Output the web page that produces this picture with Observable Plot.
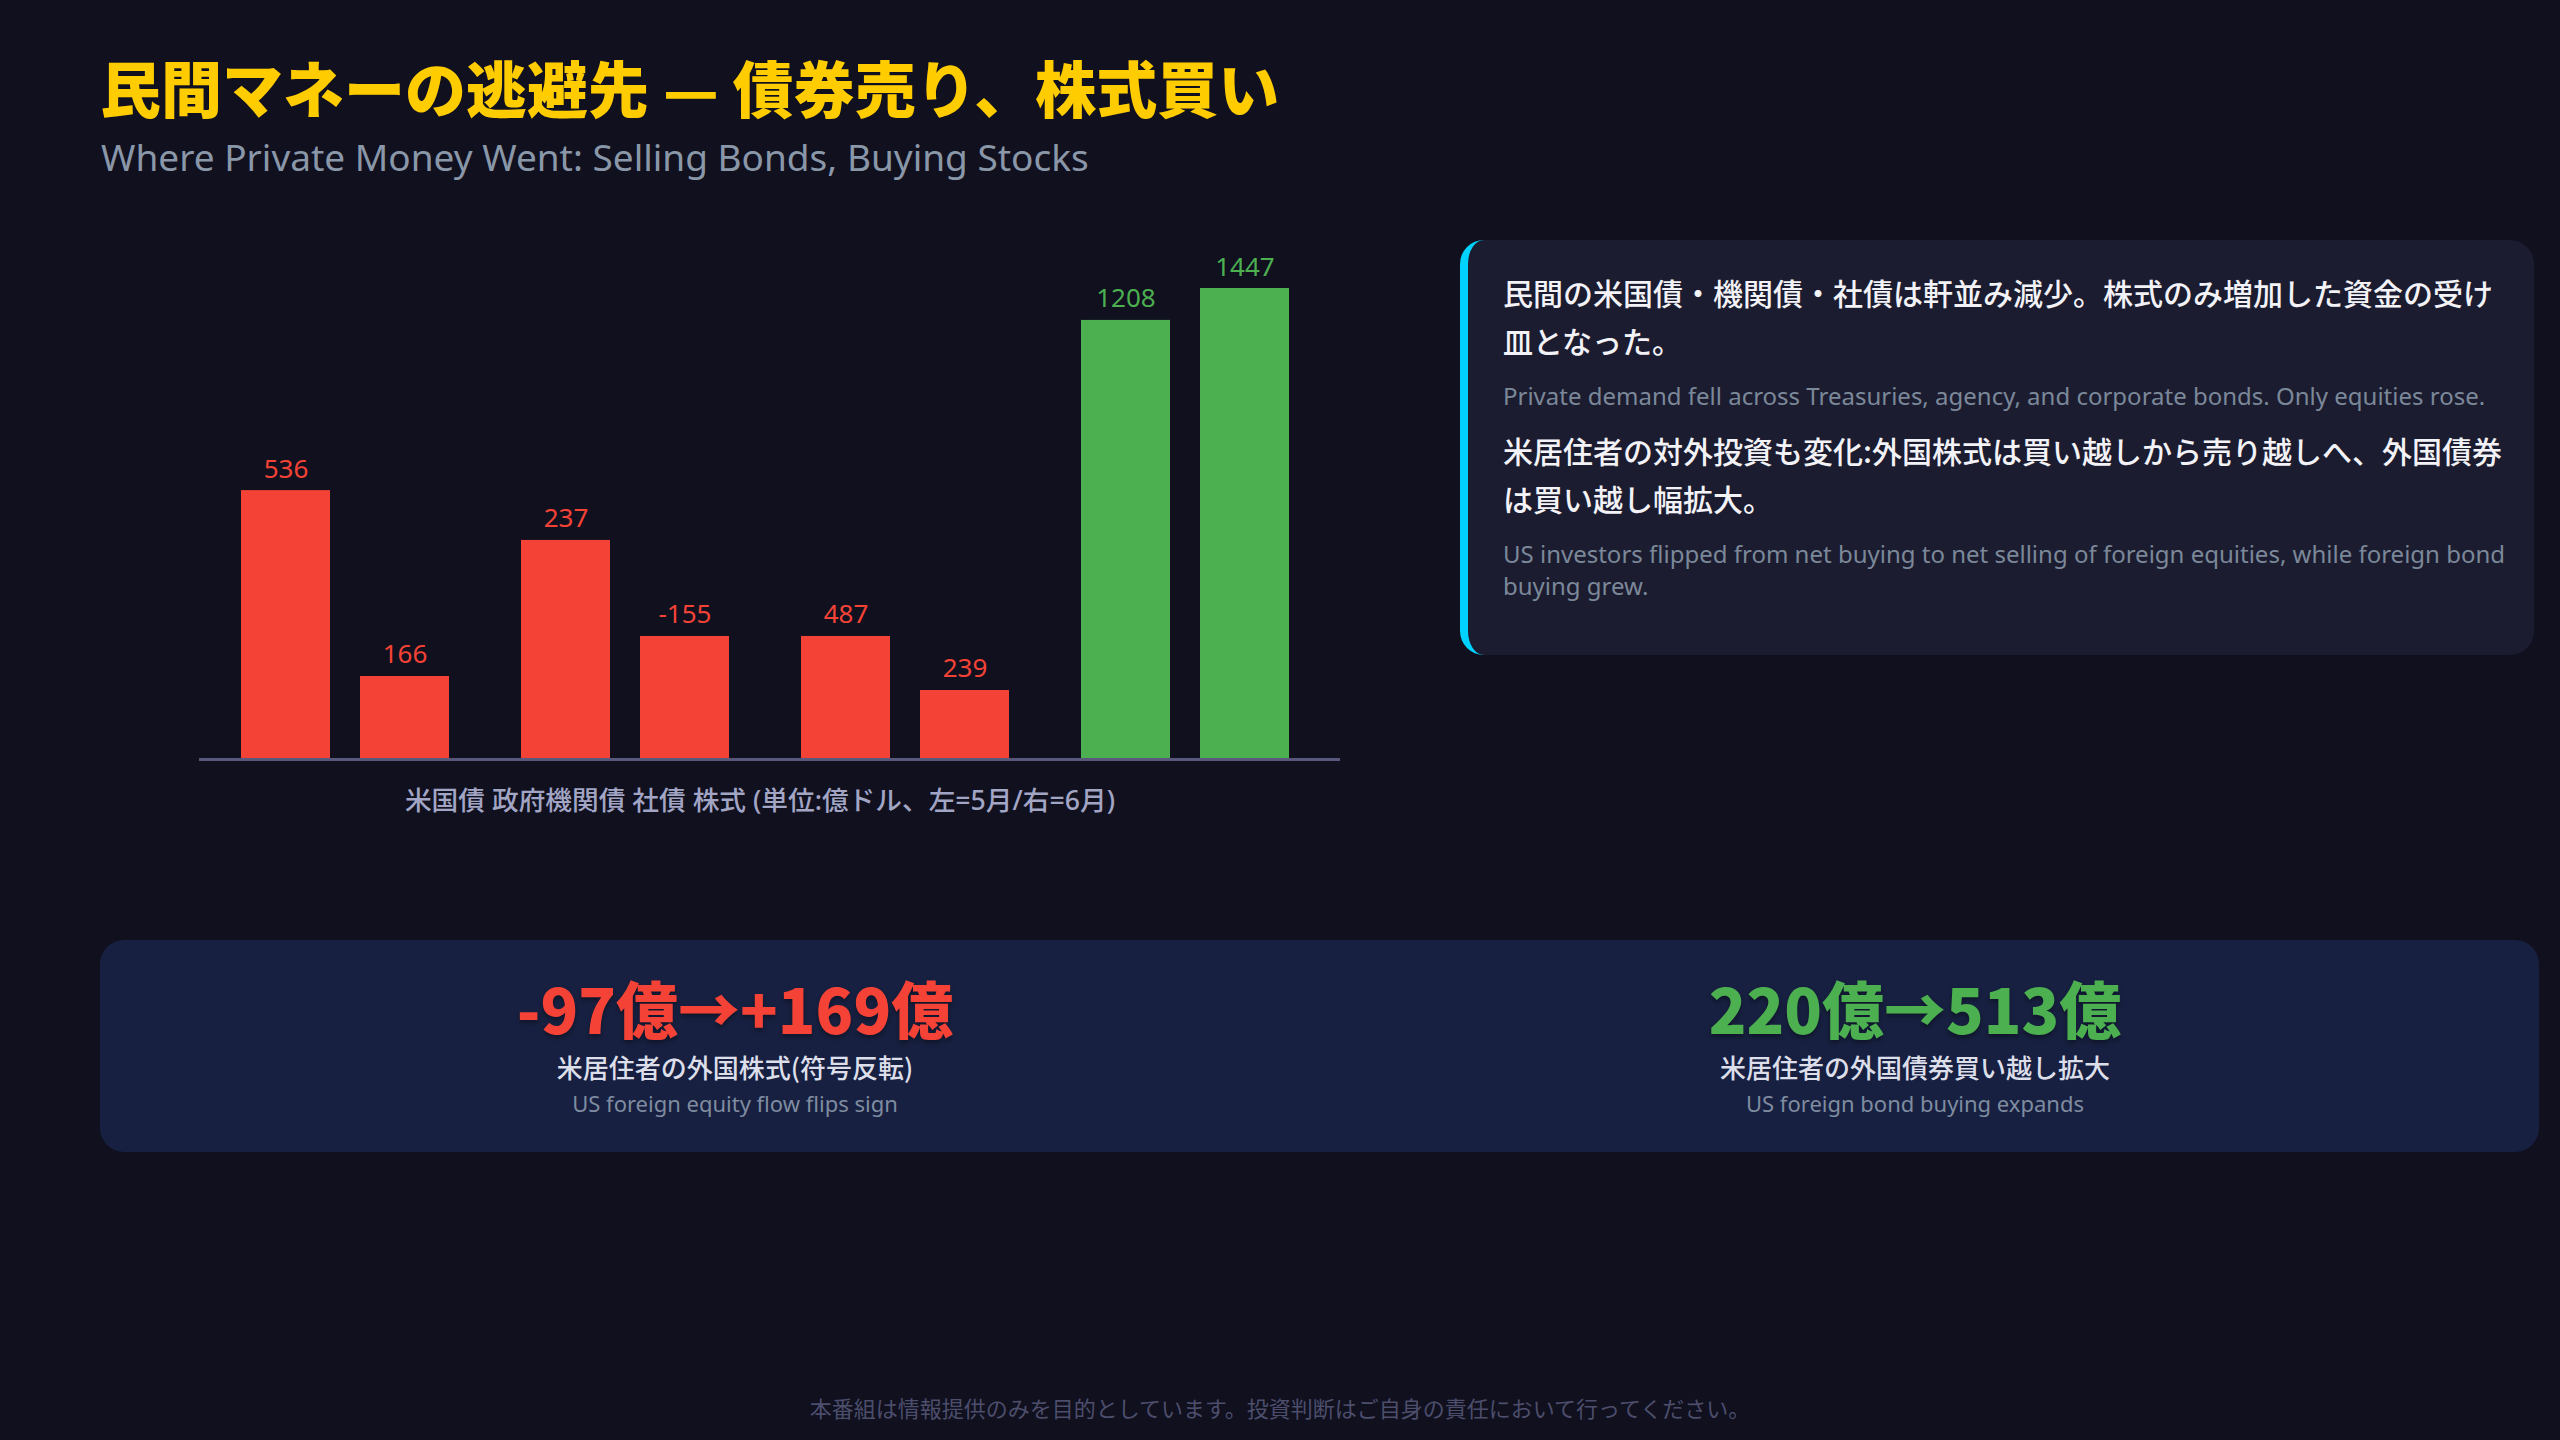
<!DOCTYPE html>
<html>
<head>
<meta charset="utf-8">
<script src="https://cdn.jsdelivr.net/npm/d3@7"></script>
<script src="https://cdn.jsdelivr.net/npm/@observablehq/plot@0.6"></script>
<style>
  html, body { margin: 0; padding: 0; background: #10101f; }
  body { width: 2560px; height: 1440px; position: relative; overflow: hidden;
         font-family: "Noto Sans", "Noto Sans CJK JP", sans-serif; }
  .abs { position: absolute; }
  #title { left: 100px; top: 56px; font-family: "Noto Sans CJK JP", sans-serif; font-weight: 900;
           font-size: 61px; line-height: 61px; color: #ffcc00; white-space: nowrap; }
  #subtitle { left: 101px; top: 138px; font-size: 37px; line-height: 37px; color: #8a97a8; white-space: nowrap; }
  #chart { left: 100px; top: 230px; width: 1260px; }
  #chart svg { background: transparent; }
  #caption { left: 360px; width: 800px; top: 787px; text-align: center; font-size: 26.7px; line-height: 26px;
             color: #a2a5c4; font-family: "Noto Sans", "Noto Sans CJK JP", sans-serif; font-weight: 500; white-space: nowrap; }
  #panel { left: 1460px; top: 240px; width: 1074px; height: 415px; box-sizing: border-box;
           background: #1b1c30; border-left: 8px solid #00d2ff; border-radius: 24px;
           padding: 28px 21px 0 35px; }
  #panel p { margin: 0; }
  #panel .jp { font-family: "Noto Sans CJK JP", sans-serif; font-size: 30px; line-height: 48px; color: #f2f2f7; font-weight: 500; margin-bottom: 16px; }
  #panel .en { font-size: 24px; line-height: 32px; color: #7b8899; margin-bottom: 14px; }
  #stats { left: 100px; top: 940px; width: 2439px; height: 212px; background: #172040; border-radius: 24px; }
  .stat { position: absolute; width: 1000px; text-align: center; }
  .stat .val { position: absolute; left: 0; width: 1000px; top: 36px; font-family: "Noto Sans CJK JP", sans-serif;
               font-weight: 900; font-size: 62px; line-height: 62px; white-space: nowrap; text-shadow: 0 3px 4px rgba(0,0,0,0.35); }
  .stat .jp { position: absolute; left: 0; width: 1000px; top: 114px; font-family: "Noto Sans CJK JP", sans-serif;
              font-size: 26px; line-height: 26px; color: #dcdeea; font-weight: 500; white-space: nowrap; }
  .stat .en { position: absolute; left: 0; width: 1000px; top: 152px; font-size: 22px; line-height: 22px; color: #7f8ca0; white-space: nowrap; }
  #footer { left: 780px; width: 1000px; top: 1396px; text-align: center; font-family: "Noto Sans CJK JP", sans-serif;
            font-size: 22px; line-height: 22px; color: #4c4e6c; white-space: nowrap; }
</style>
</head>
<body>
<div id="title" class="abs">民間マネーの逃避先 — 債券売り、株式買い</div>
<div id="subtitle" class="abs">Where Private Money Went: Selling Bonds, Buying Stocks</div>
<div id="chart" class="abs"></div>
<div id="caption" class="abs"></div>

<div id="panel" class="abs">
  <p class="jp">民間の米国債・機関債・社債は軒並み減少。株式のみ増加した資金の受け皿となった。</p>
  <p class="en">Private demand fell across Treasuries, agency, and corporate bonds. Only equities rose.</p>
  <p class="jp">米居住者の対外投資も変化:外国株式は買い越しから売り越しへ、外国債券は買い越し幅拡大。</p>
  <p class="en">US investors flipped from net buying to net selling of foreign equities, while foreign bond buying grew.</p>
</div>

<div id="stats" class="abs">
  <div class="stat" style="left:135px;">
    <div class="val" style="color:#f44336;">-97億→+169億</div>
    <div class="jp">米居住者の外国株式(符号反転)</div>
    <div class="en">US foreign equity flow flips sign</div>
  </div>
  <div class="stat" style="left:1315px;">
    <div class="val" style="color:#4caf50;">220億→513億</div>
    <div class="jp">米居住者の外国債券買い越し拡大</div>
    <div class="en">US foreign bond buying expands</div>
  </div>
</div>

<div id="footer" class="abs">本番組は情報提供のみを目的としています。投資判断はご自身の責任において行ってください。</div>

<script>
// ---- data ----
const groups = ["米国債", "政府機関債", "社債", "株式"];
const months = ["5月", "6月"];
// bar heights as drawn (scaled so the tallest bar equals its label, 1447)
const barValues = [826, 255, 673, 378, 378, 212, 1349, 1447];
// value labels printed above the bars
const barLabels = ["536", "166", "237", "-155", "487", "239", "1208", "1447"];
const axisCaption = "米国債 政府機関債 社債 株式 (単位:億ドル、左=5月/右=6月)";

const rows = groups.flatMap((g, i) => months.map((m, j) => ({
  group: g, month: m, value: barValues[i * 2 + j], label: barLabels[i * 2 + j]
})));

const RED = "#f44336", GREEN = "#4caf50";

const chart = Plot.plot({
  width: 1260,
  height: 540,
  marginTop: 58,
  marginBottom: 11,
  marginLeft: 105,
  marginRight: 35,
  style: { background: "transparent", fontFamily: "'Noto Sans', 'Noto Sans CJK JP', sans-serif", fontSize: "26px", overflow: "visible" },
  fx: { domain: groups, padding: 0, axis: null },
  x: { domain: months, paddingInner: 0.25, paddingOuter: 0.2917, axis: null },
  y: { domain: [0, d3.max(barValues)], axis: null },
  color: { domain: groups, range: [RED, RED, RED, GREEN] },
  marks: [
    Plot.barY(rows, { fx: "group", x: "month", y: "value", fill: "group" }),
    Plot.ruleY([0], { stroke: "#57587c", strokeWidth: 3, insetLeft: -6, insetRight: -15 }),
    Plot.text(rows, { fx: "group", x: "month", y: "value", text: "label", fill: "group",
                      lineAnchor: "bottom", dy: -13, fontSize: 26 })
  ]
});
document.getElementById("chart").appendChild(chart);
document.getElementById("caption").textContent = axisCaption;
</script>
</body>
</html>
